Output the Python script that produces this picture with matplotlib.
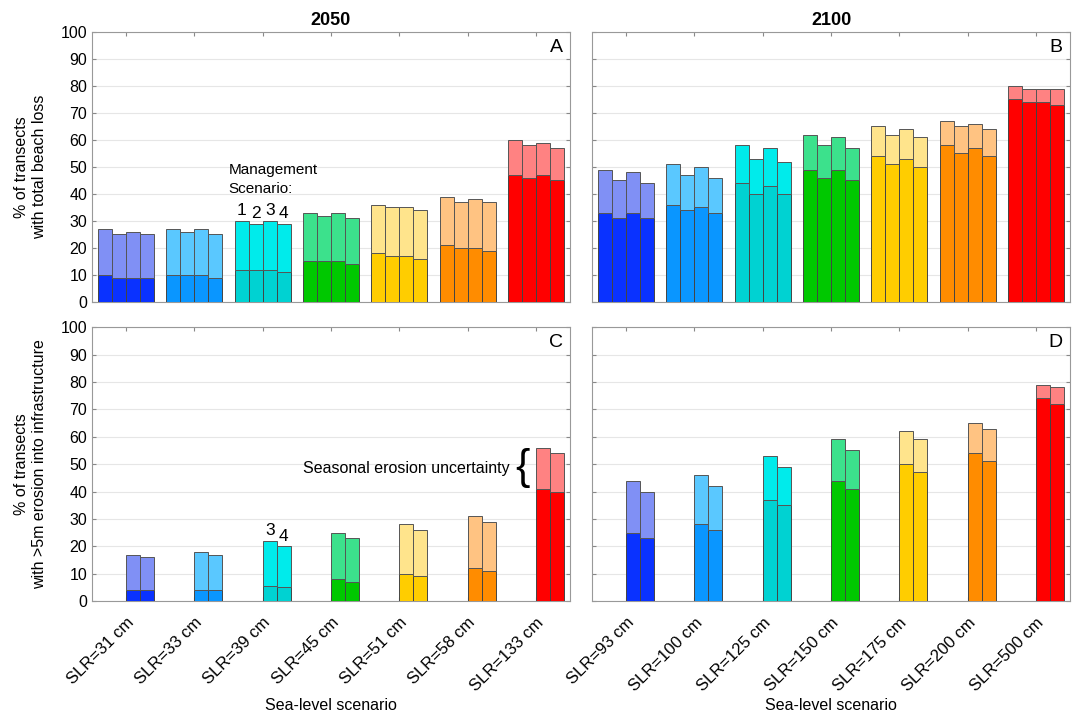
import matplotlib.pyplot as plt
import numpy as np

plt.rcParams['font.family'] = ['Liberation Sans', 'DejaVu Sans']

# sea-level scenarios (tick labels)
slr_2050 = ['SLR=31 cm', 'SLR=33 cm', 'SLR=39 cm', 'SLR=45 cm', 'SLR=51 cm', 'SLR=58 cm', 'SLR=133 cm']
slr_2100 = ['SLR=93 cm', 'SLR=100 cm', 'SLR=125 cm', 'SLR=150 cm', 'SLR=175 cm', 'SLR=200 cm', 'SLR=500 cm']

# Panel A: total beach loss, 2050 (rows = SLR scenario, cols = management scenario 1-4)
a_low = [[10, 9, 9, 9], [10, 10, 10, 9], [12, 12, 12, 11], [15, 15, 15, 14],
         [18, 17, 17, 16], [21, 20, 20, 19], [47, 46, 47, 45]]
a_high = [[27, 25, 26, 25], [27, 26, 27, 25], [30, 29, 30, 29], [33, 32, 33, 31],
          [36, 35, 35, 34], [39, 37, 38, 37], [60, 58, 59, 57]]

# Panel B: total beach loss, 2100
b_low = [[33, 31, 33, 31], [36, 34, 35, 33], [44, 40, 43, 40], [49, 46, 49, 45],
         [54, 51, 53, 50], [58, 55, 57, 54], [75, 74, 74, 73]]
b_high = [[49, 45, 48, 44], [51, 47, 50, 46], [58, 53, 57, 52], [62, 58, 61, 57],
          [65, 62, 64, 61], [67, 65, 66, 64], [80, 79, 79, 79]]

# Panel C: >5m erosion into infrastructure, 2050 (management scenarios 3 and 4 only)
c_low = [[4, 4], [4, 4], [5.6, 5], [8, 7], [10, 9], [12, 11], [41, 40]]
c_high = [[17, 16], [18, 17], [22, 20], [25, 23], [28, 26], [31, 29], [56, 54]]

# Panel D: >5m erosion into infrastructure, 2100
d_low = [[25, 23], [28, 26], [37, 35], [44, 41], [50, 47], [54, 51], [74, 72]]
d_high = [[44, 40], [46, 42], [53, 49], [59, 55], [62, 59], [65, 63], [79, 78]]

dark_cols = ['#0a32ff', '#0a96ff', '#00d2d2', '#00c800', '#ffcd00', '#ff8c00', '#ff0000']
light_cols = ['#8090f5', '#5ac8ff', '#00ebeb', '#3ce18c', '#ffe48c', '#ffc382', '#ff8282']

bw = 0.205
offsets = np.array([-1.5, -0.5, 0.5, 1.5]) * bw

fig = plt.figure(figsize=(10.77, 7.19), dpi=100)
axA = fig.add_axes([0.0854, 0.580, 0.4438, 0.3755])
axB = fig.add_axes([0.5497, 0.580, 0.4438, 0.3755])
axC = fig.add_axes([0.0854, 0.164, 0.4438, 0.381])
axD = fig.add_axes([0.5497, 0.164, 0.4438, 0.381])


def draw_panel(ax, low, high, scen, letter, labels, show_x):
    for g in range(7):
        for k, s in enumerate(scen):
            x = g + 1 + offsets[s]
            lo = low[g][k]
            hi = high[g][k]
            ax.bar(x, lo, width=bw, color=dark_cols[g], edgecolor='#444444', linewidth=0.7, zorder=3)
            ax.bar(x, hi - lo, bottom=lo, width=bw, color=light_cols[g], edgecolor='#555555',
                   linewidth=0.7, zorder=3)
    ax.set_xlim(0.5, 7.5)
    ax.set_ylim(0, 100)
    ax.set_yticks(np.arange(0, 101, 10))
    ax.set_xticks(np.arange(1, 8))
    ax.grid(axis='y', color='#e6e6e6', linewidth=0.8, zorder=0)
    ax.tick_params(direction='in', top=True, right=True, length=3, labelsize=11.5, color='#888888')
    for sp in ax.spines.values():
        sp.set_color('#999999')
    if show_x:
        ax.set_xticklabels(labels, rotation=45, ha='right', rotation_mode='anchor', fontsize=12)
        ax.tick_params(axis='x', pad=10)
        ax.set_xlabel('Sea-level scenario', fontsize=11.5, labelpad=3)
    else:
        ax.set_xticklabels([])
    ax.text(0.985, 0.975, letter, transform=ax.transAxes, ha='right', va='top', fontsize=14)


draw_panel(axA, a_low, a_high, [0, 1, 2, 3], 'A', slr_2050, False)
draw_panel(axB, b_low, b_high, [0, 1, 2, 3], 'B', slr_2100, False)
draw_panel(axC, c_low, c_high, [2, 3], 'C', slr_2050, True)
draw_panel(axD, d_low, d_high, [2, 3], 'D', slr_2100, True)

axB.set_yticklabels([])
axD.set_yticklabels([])

axA.set_title('2050', fontsize=13, fontweight='bold', pad=5)
axB.set_title('2100', fontsize=13, fontweight='bold', pad=5)
axA.set_ylabel('% of transects\nwith total beach loss', fontsize=11.5, labelpad=10)
axC.set_ylabel('% of transects\nwith >5m erosion into infrastructure', fontsize=11.5, labelpad=10)

# annotations
axA.text(2.5, 49, 'Management', fontsize=11, va='center', ha='left')
axA.text(2.5, 42, 'Scenario:', fontsize=11, va='center', ha='left')
for k in range(4):
    axA.text(3 + offsets[k], a_high[2][k] + 1, str(k + 1), fontsize=12.5, ha='center', va='bottom')
for k in range(2):
    axC.text(3 + offsets[k + 2], c_high[2][k] + 1, str(k + 3), fontsize=12.5, ha='center', va='bottom')
axC.text(6.62, 48.5, 'Seasonal erosion uncertainty', fontsize=11.5, ha='right', va='center')
axC.text(6.8, 48.5, '{', fontsize=31, ha='center', va='center', fontweight='light')

plt.savefig('out.png', dpi=100)
plt.close()
